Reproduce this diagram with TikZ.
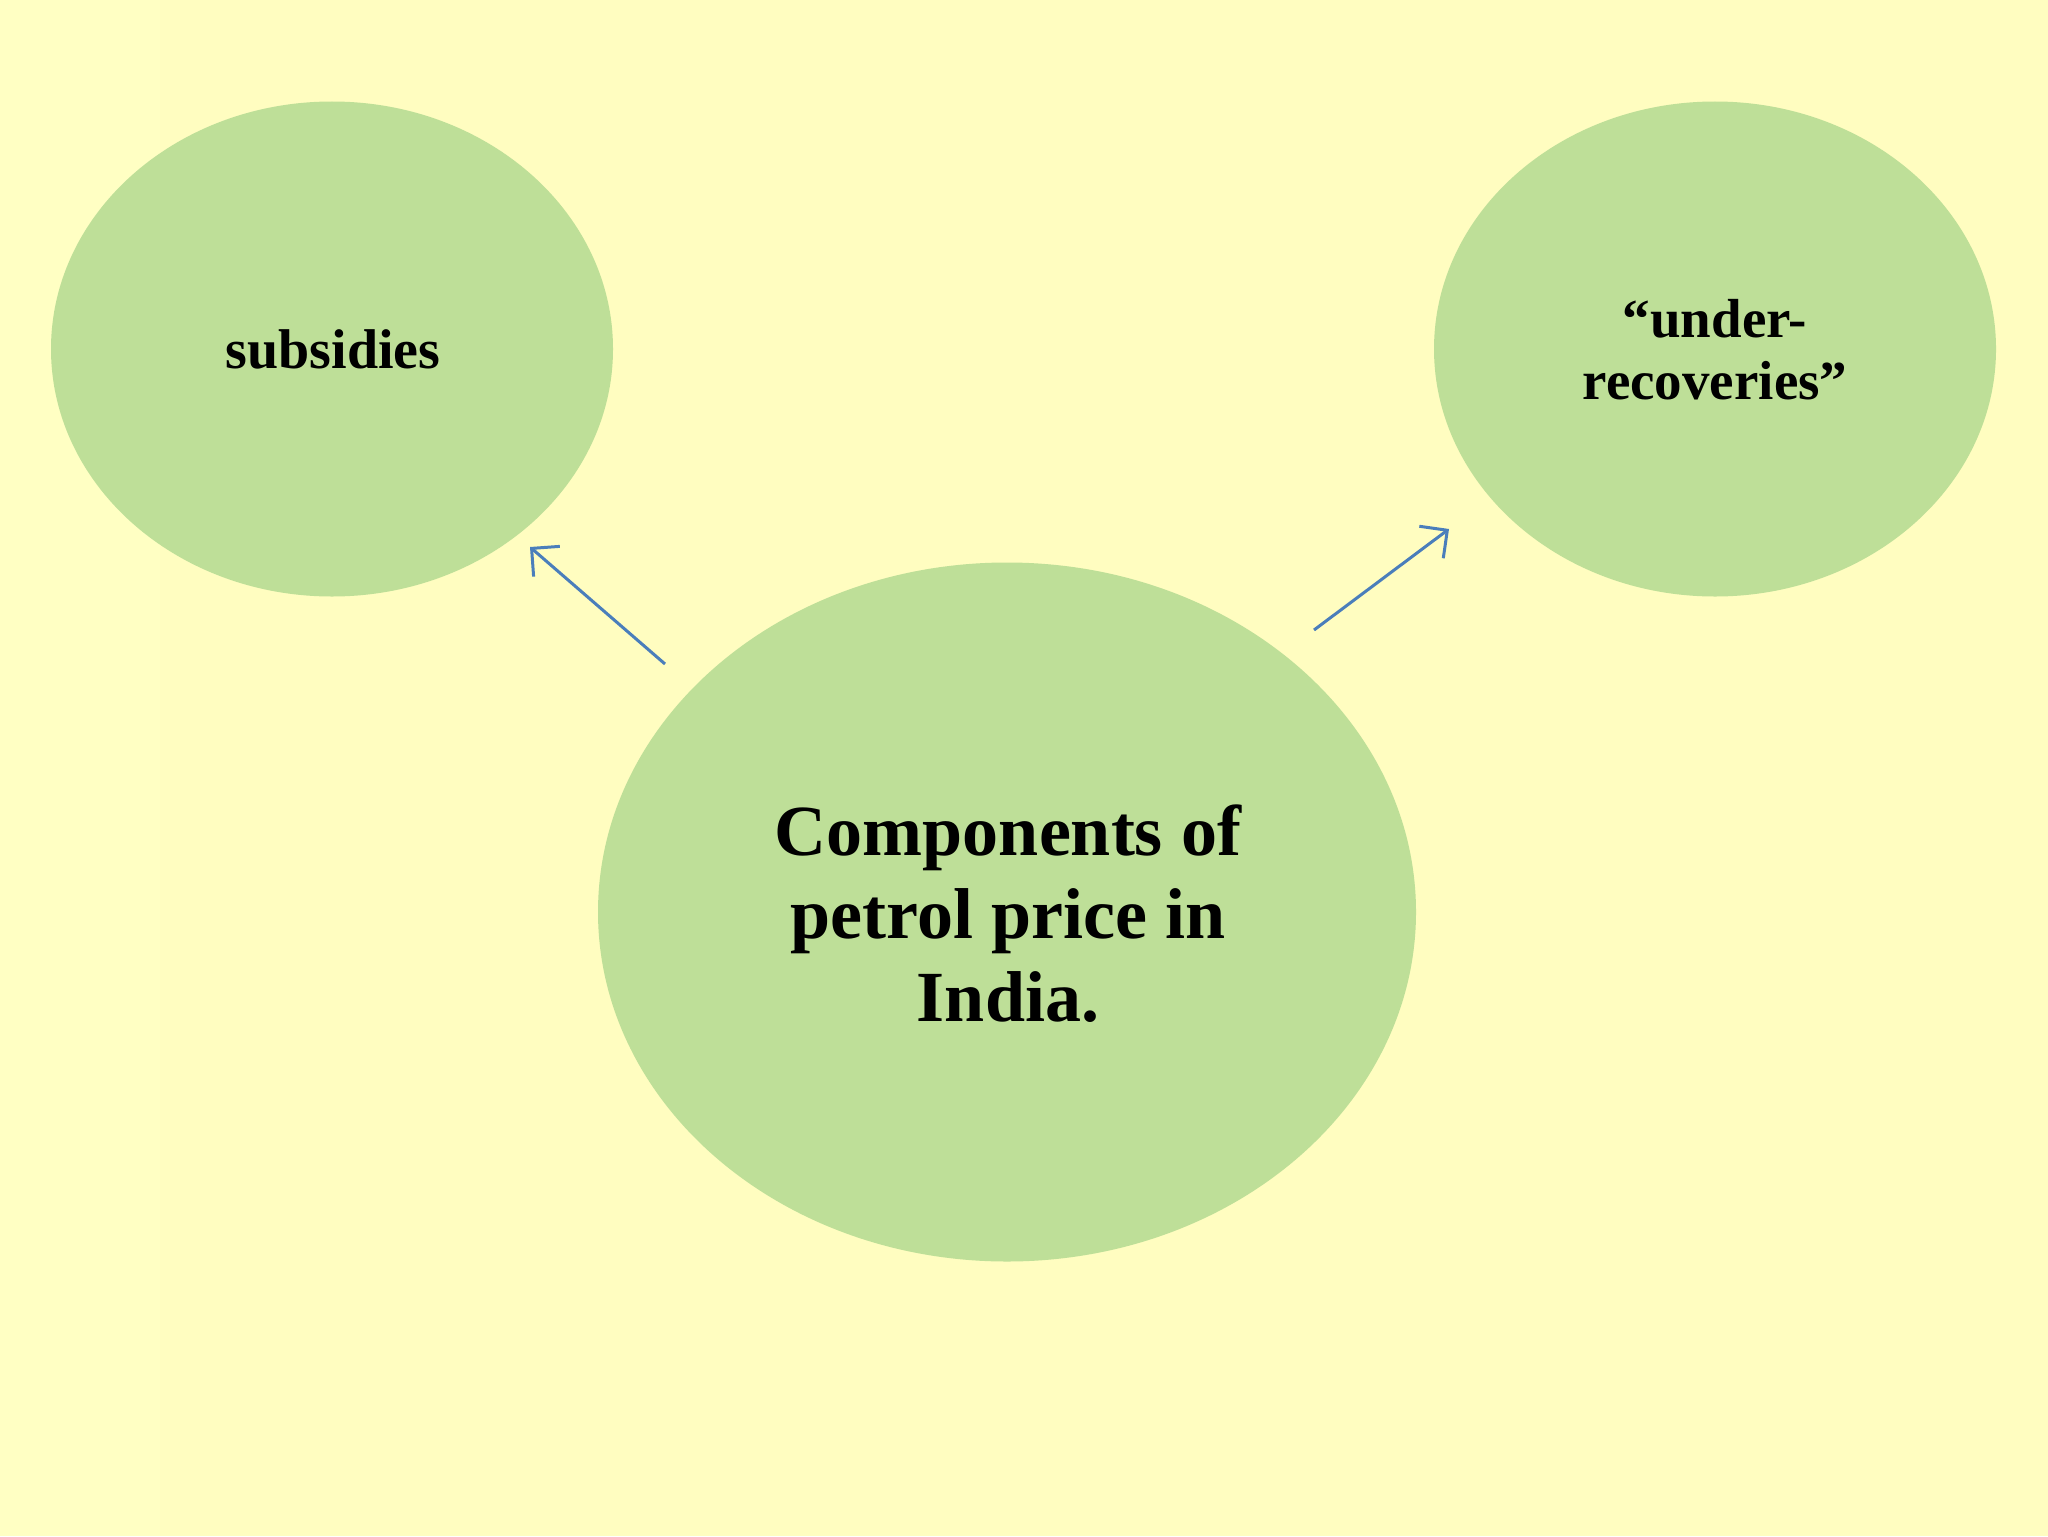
\documentclass[tikz,border=0pt]{standalone}
\usepackage{fontspec}
\setmainfont{Liberation Serif}
\usetikzlibrary{shapes.geometric,arrows.meta}
\definecolor{bgyellow}{HTML}{FFFDC0}
\definecolor{bgyellowL}{HTML}{FFFFC3}
\definecolor{bubble}{HTML}{BEDF98}
\definecolor{arrowblue}{HTML}{4A7EBB}
\tikzset{
  bubblenode/.style={ellipse, fill=bubble, draw=none, inner sep=0pt},
  bubbletext/.style={font=\bfseries, align=center, inner sep=0pt, anchor=base},
  connector/.style={draw=arrowblue, line width=1.5pt, -{Straight Barb[length=10pt,width=20pt,line width=1.5pt]}}
}
\begin{document}
\begin{tikzpicture}[x=0.5pt,y=-0.5pt]
  \fill[bgyellow] (0,0) rectangle (2048,1536);
  \fill[bgyellowL] (0,0) rectangle (160,1536);
  \useasboundingbox (0,0) rectangle (2048,1536);

  \node[bubblenode, minimum width=281pt, minimum height=247.5pt] (sub) at (332,349) {};
  \node[bubblenode, minimum width=281pt, minimum height=247.5pt] (und) at (1715,349) {};
  \node[bubblenode, minimum width=409pt, minimum height=349.5pt] (comp) at (1007,912) {};

  \node[bubbletext, font=\bfseries\fontsize{28pt}{25pt}\selectfont] (subt) at (333,368) {subsidies};
  \node[bubbletext, font=\bfseries\fontsize{27.5pt}{25pt}\selectfont] (undt1) at (1715,337) {“under-};
  \node[bubbletext, font=\bfseries\fontsize{27.5pt}{25pt}\selectfont] (undt2) at (1715,399) {recoveries”};
  \node[bubbletext, font=\bfseries\fontsize{36pt}{41.5pt}\selectfont] (ct1) at (1008,855) {Components of};
  \node[bubbletext, font=\bfseries\fontsize{36pt}{41.5pt}\selectfont] (ct2) at (1008,938) {petrol price in};
  \node[bubbletext, font=\bfseries\fontsize{36pt}{41.5pt}\selectfont] (ct3) at (1008,1021) {India.};

  \coordinate (a1s) at (665,664);
  \coordinate (a1e) at (530,547);
  \coordinate (a2s) at (1314,630);
  \coordinate (a2e) at (1449,529);
  \draw[connector] (a1s) -- (a1e);
  \draw[connector] (a2s) -- (a2e);
\end{tikzpicture}
\end{document}
